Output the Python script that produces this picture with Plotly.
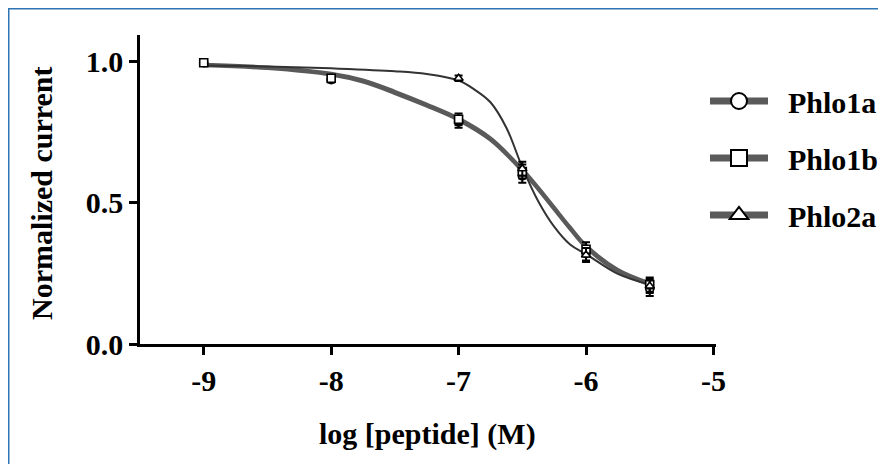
import plotly.graph_objects as go

# ---- measured data points ----
conc = [-9, -8, -7, -6.5, -6, -5.5]
phlo1a_y = [0.995, 0.935, 0.785, 0.595, 0.32, 0.195]
phlo1a_err = [0.01, 0.01, 0.02, 0.025, 0.025, 0.025]
phlo1b_y = [0.995, 0.94, 0.795, 0.61, 0.335, 0.21]
phlo1b_err = [0.01, 0.01, 0.02, 0.025, 0.025, 0.025]
conc2 = [-7, -6.5, -6, -5.5]
phlo2a_y = [0.94, 0.62, 0.315, 0.205]
phlo2a_err = [0.01, 0.025, 0.025, 0.025]

# ---- fitted curves ----
fit_x1 = [-9, -8.5, -8, -7.75, -7.5, -7.25, -7, -6.75, -6.5, -6.375, -6.25, -6.125, -6, -5.75, -5.5]
fit_1a = [0.985, 0.975, 0.952, 0.927, 0.887, 0.842, 0.792, 0.722, 0.612, 0.547, 0.477, 0.407, 0.342, 0.257, 0.21]
fit_1b = [0.989, 0.979, 0.957, 0.933, 0.893, 0.848, 0.798, 0.728, 0.618, 0.553, 0.483, 0.413, 0.348, 0.263, 0.216]
fit_x2 = [-9, -8.5, -8, -7.5, -7.25, -7, -6.875, -6.75, -6.625, -6.5, -6.375, -6.25, -6.125, -6, -5.75, -5.5]
fit_2a = [0.985, 0.982, 0.975, 0.965, 0.955, 0.932, 0.9, 0.855, 0.765, 0.625, 0.505, 0.415, 0.352, 0.318, 0.248, 0.21]

names = ["Phlo1a", "Phlo1b", "Phlo2a"]
symbols = ["circle", "square", "triangle-up"]
x_ticks = [-9, -8, -7, -6, -5]
x_ticktext = ["-9", "-8", "-7", "-6", "-5"]
y_ticks = [0, 0.5, 1.0]
y_ticktext = ["0.0", "0.5", "1.0"]

FONT = "Liberation Serif, Times New Roman, serif"
FS = 30

fig = go.Figure()

# curves
fig.add_trace(go.Scatter(x=fit_x1, y=fit_1a, mode="lines", line=dict(color="#5a5a5a", width=3.5, shape="spline"), showlegend=False, hoverinfo="skip"))
fig.add_trace(go.Scatter(x=fit_x1, y=fit_1b, mode="lines", line=dict(color="#5a5a5a", width=3.5, shape="spline"), showlegend=False, hoverinfo="skip"))
fig.add_trace(go.Scatter(x=fit_x2, y=fit_2a, mode="lines", line=dict(color="#333333", width=2, shape="spline"), showlegend=False, hoverinfo="skip"))

# points with error bars
for xs, ys, es, sym in [(conc, phlo1a_y, phlo1a_err, "circle"),
                        (conc, phlo1b_y, phlo1b_err, "square"),
                        (conc2, phlo2a_y, phlo2a_err, "triangle-up")]:
    fig.add_trace(go.Scatter(
        x=xs, y=ys, mode="markers",
        marker=dict(symbol=sym, size=8, color="white", line=dict(color="black", width=1.6)),
        error_y=dict(type="data", array=es, color="black", thickness=2, width=4),
        showlegend=False, hoverinfo="skip"))

# legend entries
for n, s in zip(names, symbols):
    fig.add_trace(go.Scatter(
        x=[None], y=[None], mode="lines+markers", name="\u00a0\u00a0" + n,
        legendgroup=n,
        line=dict(color="#5a5a5a", width=7),
        marker=dict(symbol=s, size=16, color="white", line=dict(color="black", width=2))))

# the page body adds an 8px offset; figure pixel = page pixel - 8
W, H = 878, 456
L, R, T, B = 132, 170, 27, 120
pw, ph = W - L - R, H - T - B


def px(xpix):
    return (xpix - L) / pw


def py(ypix):
    return (H - B - ypix) / ph


fig.update_layout(
    width=W, height=H,
    margin=dict(l=L, r=R, t=T, b=B, autoexpand=False),
    paper_bgcolor="white", plot_bgcolor="white",
    font=dict(family=FONT, size=FS, color="black", weight="bold"),
    xaxis=dict(range=[-9.5, -4.98], tickvals=x_ticks, ticktext=x_ticktext,
               showgrid=False, zeroline=False, showline=True, linecolor="black", linewidth=2.5,
               ticks="outside", ticklen=8, tickwidth=2.5, tickcolor="black",
               tickfont=dict(family=FONT, size=FS, weight="bold")),
    yaxis=dict(range=[0, 1.093], tickvals=y_ticks, ticktext=y_ticktext,
               showgrid=False, zeroline=False, showline=True, linecolor="black", linewidth=2.5,
               ticks="outside", ticklen=8, tickwidth=2.5, tickcolor="black",
               tickfont=dict(family=FONT, size=FS, weight="bold")),
    legend=dict(x=px(697), y=py(67), xanchor="left", yanchor="top",
                bgcolor="rgba(0,0,0,0)", borderwidth=0, traceorder="grouped", tracegroupgap=15,
                itemwidth=58, font=dict(family=FONT, size=FS, weight="bold")),
    showlegend=True,
    annotations=[
        dict(text="Normalized current", x=px(34), y=py(185), xref="paper", yref="paper",
             xanchor="center", yanchor="middle",
             textangle=-90, showarrow=False, font=dict(family=FONT, size=FS, weight="bold")),
        dict(text="log [peptide] (M)", x=px(419), y=py(426), xref="paper", yref="paper",
             xanchor="center", yanchor="middle",
             showarrow=False, font=dict(family=FONT, size=FS, weight="bold")),
    ],
    shapes=[dict(type="rect", xref="paper", yref="paper",
                 x0=px(0), x1=px(W + 10), y0=py(H + 10), y1=py(0),
                 line=dict(color="#2e75b6", width=3), layer="below")],
)

fig.write_html("out.html")
